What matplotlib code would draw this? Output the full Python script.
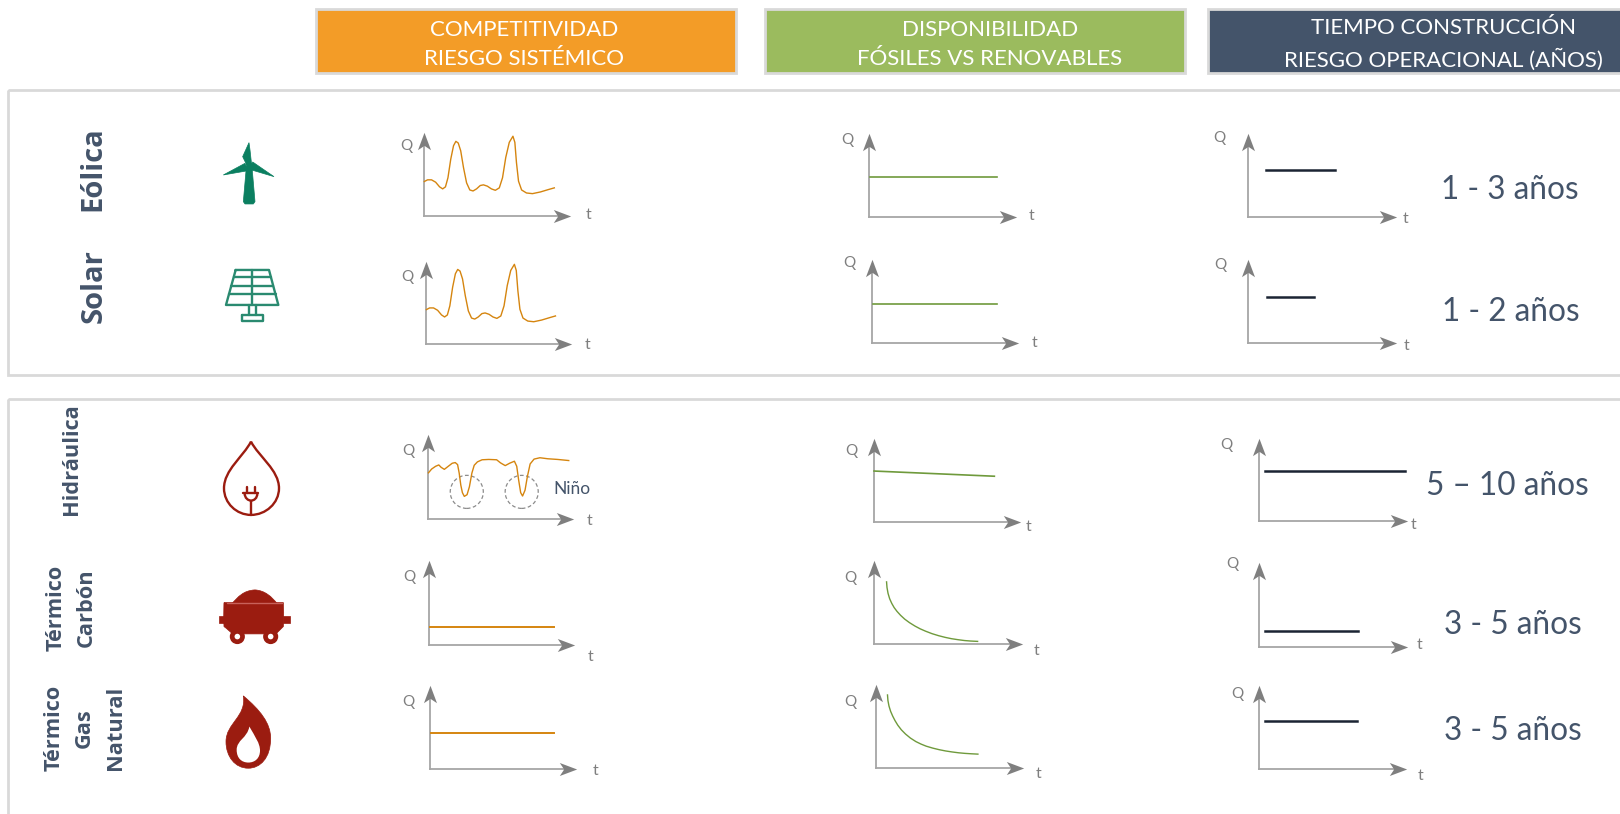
# =========================================================
# ENERGY SOURCES: COMPETITIVENESS / AVAILABILITY / BUILD TIME
# python plot.py
# =========================================================

import matplotlib
matplotlib.use("Agg")
import matplotlib.pyplot as plt
from matplotlib.patches import Rectangle, Ellipse, Circle, PathPatch, Polygon
from matplotlib.path import Path

# =========================================================
# DATA (t and Q as a share of each small chart's axes)
# =========================================================
headers = [
    "COMPETITIVIDAD\nRIESGO SISTÉMICO",
    "DISPONIBILIDAD\nFÓSILES VS RENOVABLES",
    "TIEMPO CONSTRUCCIÓN\nRIESGO OPERACIONAL (AÑOS)",
]
build_times = ["1 - 3 años", "1 - 2 años", "5 – 10 años", "3 - 5 años", "3 - 5 años"]

renewable_t = [.005, .027, .054, .082, .109, .130, .149, .166, .185, .204, .220, .236, .253,
               .272, .293, .315, .337, .361, .386, .408, .435, .462, .489, .516, .538, .560,
               .584, .609, .622, .633, .647, .668, .701, .742, .796, .851, .891]
renewable_q = [.411, .431, .431, .403, .347, .323, .347, .456, .677, .839, .891, .871, .778,
               .577, .395, .310, .298, .323, .363, .371, .355, .323, .306, .335, .456, .698,
               .879, .952, .879, .637, .415, .310, .274, .266, .286, .315, .335]

hydro_t = [.005, .027, .054, .076, .092, .114, .141, .168, .189, .205, .216, .227, .238, .251,
           .270, .286, .303, .319, .341, .373, .419, .473, .500, .532, .562, .595, .611, .624,
           .638, .651, .668, .684, .703, .730, .770, .824, .892, .968]
hydro_q = [.540, .585, .617, .633, .605, .581, .617, .653, .661, .637, .536, .395, .306, .262,
           .282, .375, .536, .629, .669, .694, .698, .694, .657, .625, .653, .677, .617, .456,
           .306, .266, .335, .496, .645, .702, .718, .706, .698, .685]
nino_t = [.268, .645]
nino_q = [.315, .315]

coal_decay_t = [.084, .087, .094, .105, .119, .135, .154, .178, .206, .238, .276, .310, .346,
                .390, .434, .478, .521, .565, .608, .650, .696]
coal_decay_q = [.737, .670, .600, .535, .480, .430, .385, .338, .292, .250, .208, .176, .148,
                .118, .094, .074, .058, .046, .036, .030, .026]
gas_decay_t = [.077, .080, .087, .098, .112, .128, .147, .171, .199, .232, .269, .304, .339,
               .383, .427, .470, .514, .558, .601, .645, .689]
gas_decay_q = [.867, .800, .735, .672, .615, .560, .505, .450, .400, .352, .310, .280, .255,
               .232, .213, .198, .186, .176, .169, .164, .160]

# competitiveness (col 1), flat cases
coal_comp_t, coal_comp_q = [.007, .86], [.207, .207]
gas_comp_t, gas_comp_q = [.007, .85], [.42, .42]
# availability (col 2), flat or nearly flat cases
wind_avail_t, wind_avail_q = [.007, .864], [.481, .481]
solar_avail_t, solar_avail_q = [.007, .85], [.463, .463]
hydro_avail_t, hydro_avail_q = [.0, .82], [.605, .543]
# build time (col 3)
wind_time_t, wind_time_q = [.118, .587], [.556, .556]
solar_time_t, solar_time_q = [.125, .44], [.537, .537]
hydro_time_t, hydro_time_q = [.035, .98], [.60, .60]
coal_time_t, coal_time_q = [.035, .66], [.183, .183]
gas_time_t, gas_time_q = [.035, .66], [.568, .568]

# =========================================================
# STYLE / LAYOUT (pixels of a 1568 x 788 canvas)
# =========================================================
W, H = 1568, 788
S = 1620 / 1568
ORANGE = "#D5850F"
GREEN = "#6F9A3C"
BLACK = "#1B2433"
NAVY = "#44546A"
GRAY_AXIS = "#A6A6A6"
GRAY_HEAD = "#7F7F7F"
GRAY_TEXT = "#7F7F7F"
TEAL = "#0B7F60"
RED = "#9B1C10"

plt.rcParams["font.family"] = ["Lato", "DejaVu Sans"]

fig = plt.figure(figsize=(16.2, 8.14), dpi=100)
bg = fig.add_axes([0, 0, 1, 1])
bg.set_xlim(0, W)
bg.set_ylim(H, 0)
bg.axis("off")

# =========================================================
# HEADERS AND PANELS
# =========================================================
header_boxes = [(306, 712, "#F39C27"), (740, 1147, "#9BBB5E"), (1169, 1600, "#44546A")]
header_text_x = [507, 958, 1397]
for (x0, x1, color), label, tx in zip(header_boxes, headers, header_text_x):
    bg.add_patch(Rectangle((x0, 9), x1 - x0, 62, fc=color, ec="#D9D9D9", lw=2))
    bg.text(tx, 43, label, color="white", fontsize=16, ha="center", va="center", linespacing=1.6)

bg.add_patch(Rectangle((8, 87), 1600, 276, fc="none", ec="#D9D9D9", lw=2))
bg.add_patch(Rectangle((8, 386), 1600, 500, fc="none", ec="#D9D9D9", lw=2))

# =========================================================
# ROW LABELS
# =========================================================
row_font = ["Open Sans", "DejaVu Sans"]
bg.text(90, 163, "Eólica", color=NAVY, fontsize=21, fontweight="bold", family=row_font,
        rotation=90, ha="center", va="center")
bg.text(91, 277, "Solar", color=NAVY, fontsize=21, fontweight="bold", family=row_font,
        rotation=90, ha="center", va="center")
bg.text(69, 444, "Hidráulica", color=NAVY, fontsize=15.7, fontweight="bold", family=row_font,
        rotation=90, ha="center", va="center")
bg.text(69, 588, "Térmico\nCarbón", color=NAVY, fontsize=15.7, fontweight="bold", family=row_font,
        rotation=90, ha="center", va="center", multialignment="center", linespacing=1.6)
bg.text(82, 705, "Térmico\nGas\nNatural", color=NAVY, fontsize=15.7, fontweight="bold",
        family=row_font, rotation=90, ha="center", va="center", multialignment="center",
        linespacing=1.6)

# =========================================================
# SMALL CHARTS
# =========================================================
# x origin, y origin, x arrow tip, y arrow tip, Q label (x, y), t label (x, y)
boxes = [
    [(410, 209, 552, 128, 393, 141, 570, 208), (841, 210, 984, 129, 820, 136, 998, 209), (1208, 210, 1352, 129, 1180, 134, 1360, 212)],
    [(412, 333, 553, 252, 394, 268, 569, 334), (844, 332, 986, 250, 822, 255, 1001, 332), (1208, 332, 1352, 250, 1181, 257, 1361, 335)],
    [(414, 502, 555, 420, 395, 437, 571, 504), (846, 505, 988, 424, 824, 437, 996, 510), (1219, 504, 1363, 424, 1187, 431, 1368, 508)],
    [(415, 624, 556, 542, 396, 559, 572, 636), (846, 623, 990, 542, 823, 560, 1003, 630), (1219, 626, 1363, 544, 1193, 546, 1374, 624)],
    [(416, 744, 558, 663, 395, 680, 576, 746), (848, 743, 991, 662, 823, 680, 1005, 749), (1219, 744, 1362, 663, 1198, 672, 1375, 751)],
]

series = [
    [(renewable_t, renewable_q), (wind_avail_t, wind_avail_q), (wind_time_t, wind_time_q)],
    [(renewable_t, renewable_q), (solar_avail_t, solar_avail_q), (solar_time_t, solar_time_q)],
    [(hydro_t, hydro_q), (hydro_avail_t, hydro_avail_q), (hydro_time_t, hydro_time_q)],
    [(coal_comp_t, coal_comp_q), (coal_decay_t, coal_decay_q), (coal_time_t, coal_time_q)],
    [(gas_comp_t, gas_comp_q), (gas_decay_t, gas_decay_q), (gas_time_t, gas_time_q)],
]
col_colors = [ORANGE, GREEN, BLACK]
col_widths = [1.4, 1.2, 1.8]

head_right = Path([(1, 0), (-1, .75), (-.5, 0), (-1, -.75), (1, 0)],
                  [Path.MOVETO, Path.LINETO, Path.LINETO, Path.LINETO, Path.CLOSEPOLY])
head_up = Path([(0, 1), (.75, -1), (0, -.5), (-.75, -1), (0, 1)],
               [Path.MOVETO, Path.LINETO, Path.LINETO, Path.LINETO, Path.CLOSEPOLY])

hydro_ax = None
for r, row in enumerate(boxes):
    for c, (x0, y0, xt, yt, qx, qy, tx, ty) in enumerate(row):
        ax = fig.add_axes([x0 / W, 1 - y0 / H, (xt - x0) / W, (y0 - yt) / H])
        ax.set_xlim(0, 1)
        ax.set_ylim(0, 1)
        ax.axis("off")
        ax.patch.set_alpha(0)
        ax.plot([0, .93], [0, 0], color=GRAY_AXIS, lw=1.3, clip_on=False)
        ax.plot([0, 0], [0, .88], color=GRAY_AXIS, lw=1.3, clip_on=False)
        ax.plot([.94], [0], marker=head_right, ms=12.5, color=GRAY_HEAD, mew=0, clip_on=False)
        ax.plot([0], [.89], marker=head_up, ms=12.5, color=GRAY_HEAD, mew=0, clip_on=False)
        t_vals, q_vals = series[r][c]
        # curved series are drawn finer than the flat ones
        lw = col_widths[c] if len(t_vals) == 2 else 1.0
        ax.plot(t_vals, q_vals, color=col_colors[c], lw=lw, clip_on=False,
                solid_joinstyle="round")
        bg.text(qx, qy, "Q", color=GRAY_TEXT, fontsize=11, ha="center", va="center")
        bg.text(tx, ty, "t", color=GRAY_TEXT, fontsize=11.5, ha="center", va="center")
        if r == 2 and c == 0:
            hydro_ax = ax

for t_c, q_c in zip(nino_t, nino_q):
    hydro_ax.add_patch(Ellipse((t_c, q_c), .227, .39, fc="none", ec="#8C8C8C", lw=.9,
                               ls=(0, (3, 2)), clip_on=False))
bg.text(554, 473, "Niño", color=NAVY, fontsize=12.5, ha="center", va="center")

# =========================================================
# BUILD TIME LABELS
# =========================================================
time_pos = [(1461, 184), (1462, 302), (1459, 470), (1464, 605), (1464, 708)]
for (x, y), label in zip(time_pos, build_times):
    bg.text(x, y, label, color=NAVY, fontsize=22.7, ha="center", va="center")


# =========================================================
# ICONS (sketched in 3x crop coordinates)
# =========================================================
def to_bg(pts, ox, oy):
    return [((ox + x / 3) / S, (oy + y / 3) / S) for x, y in pts]


def poly(pts, ox, oy, color):
    bg.add_patch(Polygon(to_bg(pts, ox, oy), closed=True, fc=color, ec=color, lw=.5))


def stroke(pts, ox, oy, color, lw):
    xy = to_bg(pts, ox, oy)
    bg.plot([p[0] for p in xy], [p[1] for p in xy], color=color, lw=lw, solid_capstyle="round")


def bezier(pts, ox, oy, fc, ec, lw=1.5):
    codes = [Path.MOVETO] + [Path.CURVE4] * (len(pts) - 1)
    bg.add_patch(PathPatch(Path(to_bg(pts, ox, oy), codes), fc=fc, ec=ec, lw=lw))


# wind turbine
ox, oy = 200, 130
poly([(147, 38), (128, 80), (140, 105), (155, 105), (150, 60)], ox, oy, TEAL)
poly([(70, 135), (135, 100), (145, 122)], ox, oy, TEAL)
poly([(222, 140), (158, 96), (148, 118)], ox, oy, TEAL)
poly([(140, 100), (155, 100), (165, 215), (160, 222), (135, 222), (130, 215)], ox, oy, TEAL)

# solar panel
sc = "#2A8A70"
stroke([(107, 420), (207, 420), (235, 525), (78, 525), (107, 420)], ox, oy, sc, 1.7)
stroke([(157, 420), (157, 525)], ox, oy, sc, 1.7)
stroke([(101, 442), (213, 442)], ox, oy, sc, 1.7)
stroke([(94, 467), (220, 467)], ox, oy, sc, 1.7)
stroke([(87, 493), (227, 493)], ox, oy, sc, 1.7)
stroke([(147, 525), (147, 555)], ox, oy, sc, 1.7)
stroke([(167, 525), (167, 555)], ox, oy, sc, 1.7)
stroke([(125, 556), (190, 556), (190, 572), (125, 572), (125, 556)], ox, oy, sc, 1.7)

# hydro drop with plug
ox, oy = 200, 430
bezier([(153, 35), (130, 80), (72, 120), (72, 175),
        (72, 220), (110, 255), (153, 255),
        (197, 255), (237, 220), (237, 175),
        (237, 120), (176, 80), (153, 35)], ox, oy, "none", RED, 1.7)
stroke([(153, 212), (153, 255)], ox, oy, RED, 1.7)
stroke([(130, 190), (175, 190)], ox, oy, RED, 1.7)
bezier([(134, 190), (134, 205), (145, 212), (153, 212),
        (162, 212), (172, 205), (172, 190)], ox, oy, "none", RED, 1.7)
stroke([(142, 172), (142, 190)], ox, oy, RED, 1.7)
stroke([(165, 172), (165, 190)], ox, oy, RED, 1.7)

# coal wagon
bezier([(95, 522), (115, 500), (130, 482), (165, 480),
        (195, 482), (215, 500), (232, 522)], ox, oy, RED, RED, .5)
bezier([(72, 518), (72, 518), (250, 518), (250, 518),
        (252, 560), (250, 590), (250, 590),
        (240, 600), (228, 612), (228, 612),
        (180, 612), (98, 612), (98, 612),
        (85, 600), (72, 590), (72, 590),
        (70, 560), (72, 518), (72, 518)], ox, oy, RED, RED, .5)
poly([(57, 557), (72, 557), (72, 578), (57, 578)], ox, oy, RED)
poly([(250, 557), (270, 557), (270, 578), (250, 578)], ox, oy, RED)
stroke([(80, 520), (245, 520)], ox, oy, "#C8615A", 1)
for wx in [112, 212]:
    xc, yc = to_bg([(wx, 620)], ox, oy)[0]
    bg.add_patch(Circle((xc, yc), 7.3, fc=RED, ec="none"))
    bg.add_patch(Circle((xc, yc), 2.7, fc="white", ec="none"))

# gas flame
bezier([(130, 798), (180, 840), (212, 880), (212, 925),
        (212, 985), (180, 1015), (145, 1015),
        (105, 1015), (78, 980), (78, 935),
        (78, 880), (140, 860), (130, 798)], ox, oy, RED, RED, .5)
bezier([(148, 890), (165, 920), (180, 940), (180, 962),
        (180, 985), (165, 998), (145, 998),
        (125, 998), (110, 985), (110, 960),
        (110, 930), (142, 925), (148, 890)], ox, oy, "white", "none", 0)

bg.set_xlim(0, W)
bg.set_ylim(H, 0)

fig.savefig("out.png", dpi=100)
